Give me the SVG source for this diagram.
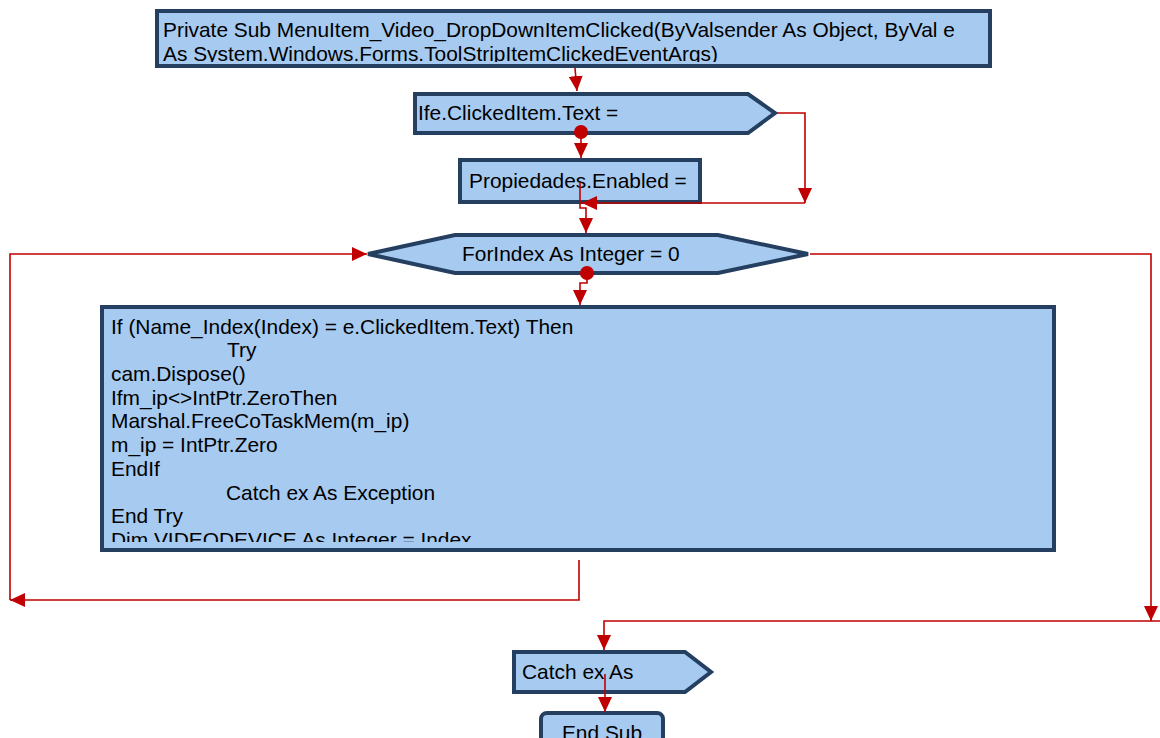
<svg xmlns="http://www.w3.org/2000/svg" width="1160" height="738" viewBox="0 0 1160 738">
<style>
.n{fill:#a6caf0;stroke:#243f60;stroke-width:4}
.t{font-family:"Liberation Sans",Arial,sans-serif;font-size:20.9px;fill:#000}
.c{fill:none;stroke:#c00000;stroke-width:1.6}
</style>
<defs>
<marker id="ar" markerUnits="userSpaceOnUse" markerWidth="16" markerHeight="14" refX="15" refY="7" orient="auto">
<path d="M0,0 L15,7 L0,14 Z" fill="#c00000"/>
</marker>
<marker id="dot" markerUnits="userSpaceOnUse" markerWidth="16" markerHeight="16" refX="8" refY="8" orient="auto">
<circle cx="8" cy="8" r="7" fill="#c00000"/>
</marker>
<clipPath id="c1"><rect x="159" y="13" width="829" height="49"/></clipPath>
<clipPath id="c2"><rect x="104" y="309" width="948" height="233"/></clipPath>
</defs>
<rect width="1160" height="738" fill="#fff"/>
<g id="n-start">
<rect class="n" x="157" y="11" width="833" height="55"/>
<g clip-path="url(#c1)">
<text class="t" x="163" y="37">Private Sub MenuItem_Video_DropDownItemClicked(ByValsender As Object, ByVal e</text>
<text class="t" x="163" y="61">As System.Windows.Forms.ToolStripItemClickedEventArgs)</text>
</g>
</g>
<g id="n-if">
<polygon class="n" points="415,94 748,94 775,113 748,133 415,133"/>
<text class="t" x="418" y="120">Ife.ClickedItem.Text =</text>
</g>
<g id="n-prop">
<rect class="n" x="460" y="160" width="240" height="42"/>
<text class="t" x="469" y="188">Propiedades.Enabled =</text>
</g>
<g id="n-for">
<polygon class="n" points="368,254 455,235 718,235 808,254 718,273 455,273"/>
<text class="t" x="462" y="261">ForIndex As Integer = 0</text>
</g>
<g id="n-body">
<rect class="n" x="102" y="307" width="952" height="243"/>
<g clip-path="url(#c2)">
<text class="t" x="111" y="334">If (Name_Index(Index) = e.ClickedItem.Text) Then</text>
<text class="t" x="227" y="357">Try</text>
<text class="t" x="111" y="381">cam.Dispose()</text>
<text class="t" x="111" y="405">Ifm_ip&lt;&gt;IntPtr.ZeroThen</text>
<text class="t" x="111" y="428">Marshal.FreeCoTaskMem(m_ip)</text>
<text class="t" x="111" y="452">m_ip = IntPtr.Zero</text>
<text class="t" x="111" y="476">EndIf</text>
<text class="t" x="226" y="500">Catch ex As Exception</text>
<text class="t" x="111" y="523">End Try</text>
<text class="t" x="111" y="547">Dim VIDEODEVICE As Integer = Index</text>
</g>
</g>
<g id="n-catch">
<polygon class="n" points="514,652 685,652 711,672 685,692 514,692"/>
<text class="t" x="522" y="679">Catch ex As</text>
</g>
<g id="n-end">
<rect class="n" x="541" y="713" width="122" height="40" rx="6"/>
<text class="t" x="602" y="740" text-anchor="middle">End Sub</text>
</g>
<g id="connectors">
<path class="c" d="M575,68 L577,91" marker-end="url(#ar)"/>
<path class="c" d="M581,132 V158" marker-start="url(#dot)" marker-end="url(#ar)"/>
<path class="c" d="M777,113 H805 V203" marker-end="url(#ar)"/>
<path class="c" d="M805,203 H582" marker-end="url(#ar)"/>
<path class="c" d="M580,182 V208 H586 V233" marker-end="url(#ar)"/>
<path class="c" d="M10,600 V254 H367" marker-end="url(#ar)"/>
<path class="c" d="M579,560 V600 H10" marker-end="url(#ar)"/>
<path class="c" d="M587,273 V283 H580 V305" marker-start="url(#dot)" marker-end="url(#ar)"/>
<path class="c" d="M810,254 H1151 V621" marker-end="url(#ar)"/>
<path class="c" d="M1160,621 H604 V650" marker-end="url(#ar)"/>
<path class="c" d="M605,674 V712" marker-end="url(#ar)"/>
</g>
</svg>
